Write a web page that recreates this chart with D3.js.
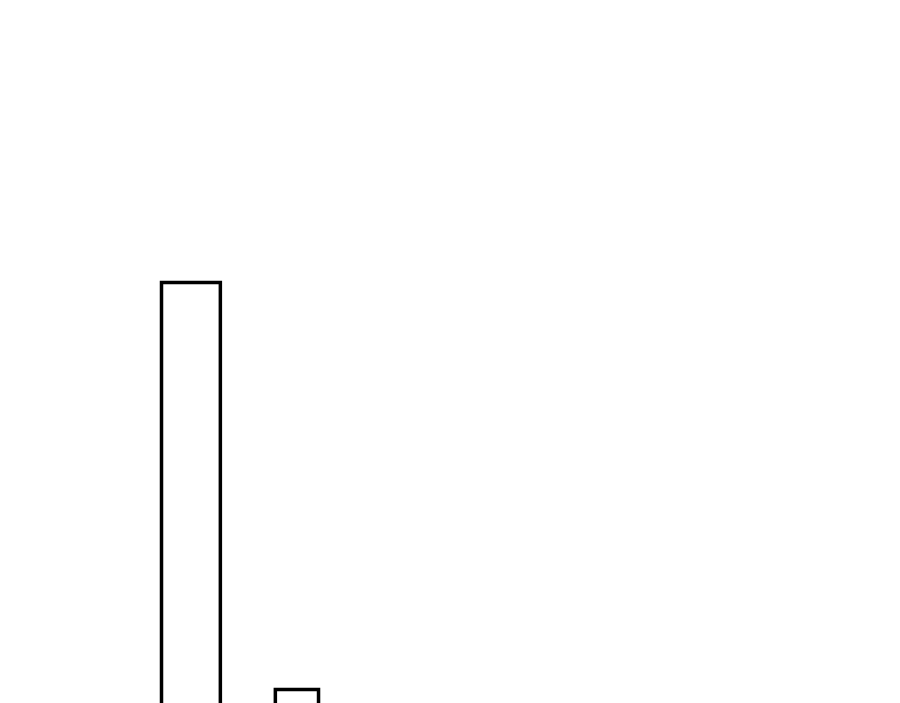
<!DOCTYPE html>
<html>
<head>
<meta charset="utf-8">
<script src="https://cdn.jsdelivr.net/npm/d3@7"></script>
<style>
  html, body { margin: 0; padding: 0; background: #fff; overflow: hidden; }
  svg { display: block; }
</style>
</head>
<body>
<svg id="chart"></svg>
<script>
const WIDTH = 900;
const HEIGHT = 703;

// bars start / end along x, and their heights
const categories = ["A", "B"];
const barStarts = [0, 20.7];
const barEnds = [10.7, 28.55];
const values = [99.5, 18.1];

const svg = d3.select("#chart")
  .attr("width", WIDTH)
  .attr("height", HEIGHT)
  .attr("viewBox", `0 0 ${WIDTH} ${HEIGHT}`);

// baseline sits below the visible area, so the bars run off the bottom
const x = d3.scaleLinear().domain([0, 100]).range([161.5, 711.5]);
const y = d3.scaleLinear().domain([0, 100]).range([780, 280]);

const data = categories.map((c, i) => ({
  cat: c, x0: barStarts[i], x1: barEnds[i], v: values[i]
}));

svg.append("g")
  .selectAll("rect")
  .data(data)
  .join("rect")
    .attr("x", d => x(d.x0))
    .attr("width", d => x(d.x1) - x(d.x0))
    .attr("y", d => y(d.v))
    .attr("height", d => y(0) - y(d.v))
    .attr("fill", "#fff")
    .attr("stroke", "#000")
    .attr("stroke-width", 3.5);
</script>
</body>
</html>
